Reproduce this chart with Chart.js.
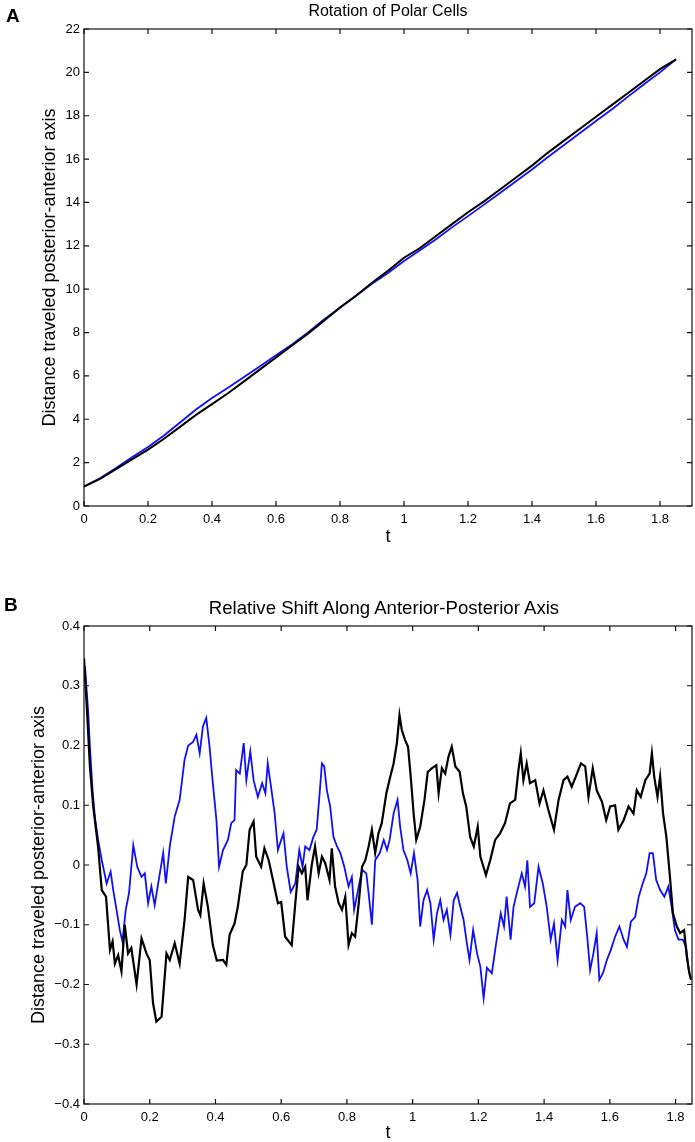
<!DOCTYPE html>
<html>
<head>
<meta charset="utf-8">
<script src="https://cdn.jsdelivr.net/npm/chart.js@4"></script>
<style>
  body { margin: 0; background: #fff; font-family: "Liberation Sans", Arial, sans-serif; }
  #page { position: relative; width: 695px; height: 1142px; overflow: hidden; }
  canvas { position: absolute; left: 0; }
  .tag { position: absolute; font-weight: bold; font-size: 19px; line-height: 1; }
  .ttl { position: absolute; line-height: 1; transform: translate(-50%, -50%); white-space: nowrap; }
</style>
</head>
<body>
<div id="page">
  <canvas id="chartA" width="695" height="560" style="top:0;width:695px;height:560px"></canvas>
  <canvas id="chartB" width="695" height="582" style="top:560px;width:695px;height:582px"></canvas>
  <div class="tag" style="left:6px;top:6px">A</div>
  <div class="ttl" style="left:388px;top:11px;font-size:16px">Rotation of Polar Cells</div>
  <div class="tag" style="left:4px;top:595px">B</div>
  <div class="ttl" style="left:384px;top:608px;font-size:18.6px">Relative Shift Along Anterior-Posterior Axis</div>
</div>
<script>
// ---- panel A: rotation of polar cells ----
const tTop = [0, 0.05, 0.1, 0.15, 0.2, 0.25, 0.3, 0.35, 0.4, 0.45, 0.5, 0.55, 0.6, 0.65, 0.7, 0.75, 0.8, 0.85, 0.9, 0.95,
  1.0, 1.05, 1.1, 1.15, 1.2, 1.25, 1.3, 1.35, 1.4, 1.45, 1.5, 1.55, 1.6, 1.65, 1.7, 1.75, 1.8, 1.85];
const topBlack = [0.9, 1.25, 1.7, 2.15, 2.6, 3.1, 3.65, 4.2, 4.7, 5.2, 5.75, 6.3, 6.85, 7.4, 7.95, 8.55, 9.15, 9.7, 10.3, 10.85,
  11.45, 11.9, 12.45, 13.0, 13.55, 14.05, 14.6, 15.15, 15.7, 16.3, 16.85, 17.4, 17.95, 18.5, 19.05, 19.6, 20.15, 20.6];
const topBlue = [0.9, 1.28, 1.75, 2.25, 2.72, 3.25, 3.85, 4.45, 4.98, 5.45, 5.95, 6.45, 6.95, 7.45, 8.0, 8.6, 9.15, 9.7, 10.25, 10.75,
  11.3, 11.8, 12.3, 12.85, 13.37, 13.9, 14.44, 14.98, 15.52, 16.1, 16.65, 17.2, 17.76, 18.3, 18.88, 19.45, 20.0, 20.6];
const xTicksTop = [0, 0.2, 0.4, 0.6, 0.8, 1, 1.2, 1.4, 1.6, 1.8];
const yTicksTop = [0, 2, 4, 6, 8, 10, 12, 14, 16, 18, 20, 22];

// ---- panel B: relative shift ----
const tBlack = [0, 0.008, 0.018, 0.028, 0.043, 0.054, 0.067, 0.079, 0.087, 0.094, 0.104, 0.114, 0.124, 0.134, 0.144, 0.16,
  0.175, 0.19, 0.2, 0.21, 0.22, 0.236, 0.251, 0.261, 0.276, 0.291, 0.306, 0.317, 0.332, 0.347, 0.354, 0.364, 0.377, 0.392,
  0.404, 0.423, 0.433, 0.443, 0.458, 0.468, 0.483, 0.494, 0.504, 0.516, 0.524, 0.539, 0.549, 0.562, 0.575, 0.59, 0.6, 0.612,
  0.632, 0.643, 0.653, 0.663, 0.673, 0.68, 0.693, 0.703, 0.714, 0.724, 0.734, 0.747, 0.754, 0.764, 0.775, 0.785, 0.795, 0.805,
  0.815, 0.825, 0.836, 0.846, 0.856, 0.866, 0.876, 0.886, 0.896, 0.906, 0.92, 0.932, 0.942, 0.952, 0.96, 0.967, 0.977, 0.986,
  0.995, 1.003, 1.011, 1.023, 1.036, 1.046, 1.059, 1.072, 1.079, 1.089, 1.099, 1.109, 1.119, 1.13, 1.143, 1.153, 1.163, 1.175,
  1.186, 1.198, 1.206, 1.223, 1.236, 1.251, 1.266, 1.281, 1.296, 1.312, 1.322, 1.329, 1.337, 1.347, 1.357, 1.373, 1.386, 1.398,
  1.413, 1.43, 1.444, 1.459, 1.471, 1.484, 1.5, 1.512, 1.525, 1.535, 1.548, 1.56, 1.576, 1.589, 1.601, 1.616, 1.626, 1.642,
  1.657, 1.672, 1.682, 1.694, 1.708, 1.721, 1.728, 1.735, 1.745, 1.753, 1.762, 1.772, 1.782, 1.792, 1.804, 1.814, 1.826, 1.834,
  1.842, 1.847];
const shiftBlack = [0.346, 0.27, 0.165, 0.098, 0.03, -0.042, -0.053, -0.142, -0.128, -0.165, -0.151, -0.178, -0.1, -0.148, -0.139, -0.2,
  -0.123, -0.148, -0.159, -0.231, -0.262, -0.254, -0.148, -0.159, -0.131, -0.165, -0.092, -0.02, -0.025, -0.075, -0.084, -0.031, -0.07, -0.134,
  -0.16, -0.159, -0.167, -0.117, -0.098, -0.07, -0.011, 0, 0.059, 0.073, 0.014, -0.003, 0.028, 0.008, -0.025, -0.064, -0.062, -0.12,
  -0.134, -0.064, -0.003, -0.014, -0.003, -0.059, 0, 0.031, -0.014, 0.014, 0.003, -0.025, 0.028, -0.036, -0.064, -0.075, -0.053, -0.134,
  -0.114, -0.12, -0.064, -0.003, 0.008, 0.031, 0.059, 0.02, 0.053, 0.07, 0.12, 0.148, 0.17, 0.204, 0.251, 0.226, 0.209, 0.198,
  0.142, 0.086, 0.042, 0.064, 0.109, 0.156, 0.162, 0.167, 0.12, 0.162, 0.153, 0.181, 0.198, 0.165, 0.156, 0.12, 0.098, 0.047,
  0.031, 0.064, 0.014, -0.017, 0.008, 0.042, 0.053, 0.07, 0.103, 0.109, 0.159, 0.187, 0.142, 0.17, 0.137, 0.142, 0.103, 0.125,
  0.092, 0.059, 0.109, 0.142, 0.148, 0.131, 0.153, 0.17, 0.165, 0.114, 0.162, 0.125, 0.106, 0.075, 0.098, 0.1, 0.059, 0.075,
  0.098, 0.086, 0.125, 0.114, 0.142, 0.153, 0.187, 0.148, 0.114, 0.148, 0.086, 0.047, -0.014, -0.081, -0.103, -0.114, -0.109, -0.153,
  -0.181, -0.192];
const tBlue = [0, 0.003, 0.013, 0.018, 0.026, 0.033, 0.043, 0.054, 0.069, 0.081, 0.089, 0.099, 0.109, 0.117, 0.127, 0.137, 0.15,
  0.162, 0.175, 0.185, 0.195, 0.205, 0.215, 0.229, 0.241, 0.249, 0.261, 0.276, 0.291, 0.306, 0.317, 0.332, 0.342, 0.352, 0.362,
  0.372, 0.382, 0.392, 0.403, 0.411, 0.423, 0.438, 0.448, 0.458, 0.463, 0.474, 0.486, 0.494, 0.506, 0.516, 0.529, 0.542, 0.552,
  0.559, 0.569, 0.58, 0.59, 0.6, 0.607, 0.617, 0.629, 0.643, 0.655, 0.665, 0.673, 0.686, 0.698, 0.708, 0.717, 0.724, 0.731,
  0.739, 0.749, 0.759, 0.77, 0.78, 0.792, 0.805, 0.815, 0.822, 0.832, 0.846, 0.859, 0.866, 0.876, 0.886, 0.9, 0.912, 0.922,
  0.93, 0.942, 0.954, 0.962, 0.972, 0.984, 0.994, 1.004, 1.015, 1.023, 1.033, 1.044, 1.054, 1.064, 1.074, 1.084, 1.094, 1.104,
  1.115, 1.125, 1.135, 1.145, 1.155, 1.165, 1.173, 1.184, 1.196, 1.206, 1.216, 1.226, 1.241, 1.254, 1.268, 1.278, 1.286, 1.298,
  1.307, 1.319, 1.332, 1.342, 1.349, 1.357, 1.37, 1.383, 1.396, 1.408, 1.42, 1.43, 1.441, 1.454, 1.464, 1.471, 1.481, 1.494,
  1.51, 1.522, 1.532, 1.54, 1.55, 1.56, 1.568, 1.579, 1.591, 1.603, 1.616, 1.629, 1.642, 1.652, 1.664, 1.677, 1.688, 1.7,
  1.711, 1.721, 1.731, 1.741, 1.753, 1.766, 1.778, 1.788, 1.798, 1.809, 1.822, 1.832, 1.84, 1.847];
const shiftBlue = [0.31, 0.332, 0.254, 0.198, 0.125, 0.081, 0.042, 0.008, -0.031, -0.011, -0.042, -0.075, -0.109, -0.128, -0.075, -0.047, 0.033,
  -0.003, -0.02, -0.014, -0.064, -0.036, -0.067, -0.02, 0.02, -0.031, 0.031, 0.081, 0.109, 0.176, 0.2, 0.206, 0.218, 0.187, 0.232,
  0.246, 0.198, 0.137, 0.075, -0.003, 0.025, 0.042, 0.07, 0.075, 0.159, 0.153, 0.204, 0.142, 0.19, 0.142, 0.114, 0.137, 0.12,
  0.17, 0.131, 0.087, 0.025, 0.042, 0.053, -0.003, -0.045, -0.031, 0.025, -0.003, 0.031, 0.025, 0.047, 0.059, 0.12, 0.17, 0.165,
  0.125, 0.098, 0.047, 0.031, 0.02, -0.003, -0.036, -0.02, -0.075, -0.047, -0.008, -0.014, -0.047, -0.1, 0.008, 0.02, 0.042, 0.025,
  0.042, 0.086, 0.109, 0.064, 0.025, 0.008, -0.014, 0.02, -0.025, -0.103, -0.059, -0.042, -0.064, -0.125, -0.081, -0.059, -0.092, -0.075,
  -0.117, -0.059, -0.047, -0.07, -0.092, -0.131, -0.159, -0.109, -0.148, -0.17, -0.223, -0.172, -0.181, -0.131, -0.081, -0.103, -0.053, -0.125,
  -0.07, -0.042, -0.014, -0.036, 0.008, -0.07, -0.064, -0.003, -0.031, -0.07, -0.125, -0.098, -0.159, -0.092, -0.103, -0.042, -0.092, -0.07,
  -0.064, -0.07, -0.125, -0.176, -0.148, -0.114, -0.192, -0.181, -0.159, -0.142, -0.12, -0.103, -0.125, -0.137, -0.095, -0.087, -0.053, -0.031,
  -0.014, 0.02, 0.02, -0.025, -0.042, -0.053, -0.036, -0.07, -0.109, -0.125, -0.125, -0.137, -0.176, -0.192];
const xTicksBottom = [0, 0.2, 0.4, 0.6, 0.8, 1, 1.2, 1.4, 1.6, 1.8];
const yTicksBottom = [-0.4, -0.3, -0.2, -0.1, 0, 0.1, 0.2, 0.3, 0.4];

const FONT = '"Liberation Sans", Arial, sans-serif';
const fmt = v => {
  const n = +Number(v).toFixed(2);
  return (n < 0 ? '\u2212' : '') + String(Math.abs(n));
};

// matlab style box with inward ticks on all four sides
const boxPlugin = {
  id: 'box',
  afterDraw(chart) {
    const { ctx, chartArea: a, scales: { x, y } } = chart;
    ctx.save();
    ctx.strokeStyle = '#111';
    ctx.lineWidth = 1.2;
    ctx.strokeRect(a.left, a.top, a.right - a.left, a.bottom - a.top);
    ctx.beginPath();
    x.ticks.forEach(t => {
      const px = x.getPixelForValue(t.value);
      ctx.moveTo(px, a.bottom); ctx.lineTo(px, a.bottom - 5);
      ctx.moveTo(px, a.top); ctx.lineTo(px, a.top + 5);
    });
    y.ticks.forEach(t => {
      const py = y.getPixelForValue(t.value);
      ctx.moveTo(a.left, py); ctx.lineTo(a.left + 5, py);
      ctx.moveTo(a.right, py); ctx.lineTo(a.right - 5, py);
    });
    ctx.stroke();
    ctx.restore();
  }
};

function makeChart(id, datasets, o) {
  return new Chart(document.getElementById(id), {
    type: 'line',
    data: { datasets },
    options: {
      responsive: false,
      animation: false,
      layout: { padding: { left: 0, right: 3, top: o.padTop, bottom: 0 } },
      plugins: { legend: { display: false }, tooltip: { enabled: false } },
      elements: { point: { radius: 0 }, line: { tension: 0 } },
      scales: {
        x: {
          type: 'linear', min: 0, max: o.xMax,
          grid: { display: false, drawTicks: false }, border: { display: false },
          afterBuildTicks: s => { s.ticks = o.xTicks.map(v => ({ value: v })); },
          afterFit: s => { s.height = o.xHeight; },
          ticks: { color: '#000', font: { family: FONT, size: 13 }, padding: 6, maxRotation: 0, callback: fmt },
          title: { display: true, text: 't', color: '#000', font: { family: FONT, size: 18, lineHeight: 1 }, padding: { top: 0, bottom: o.xTitlePad } }
        },
        y: {
          type: 'linear', min: o.yMin, max: o.yMax,
          grid: { display: false, drawTicks: false }, border: { display: false },
          afterBuildTicks: s => { s.ticks = o.yTicks.map(v => ({ value: v })); },
          afterFit: s => { s.width = 84; },
          ticks: { color: '#000', font: { family: FONT, size: 13 }, padding: 4, callback: fmt },
          title: { display: true, text: 'Distance traveled posterior-anterior axis', color: '#000', font: { family: FONT, size: 18, lineHeight: 1 }, padding: { top: o.yTitlePad, bottom: 0 } }
        }
      }
    },
    plugins: [boxPlugin]
  });
}

const pts = (xs, ys) => xs.map((x, i) => ({ x, y: ys[i] }));

makeChart('chartA', [
  { data: pts(tTop, topBlack), borderColor: '#000', borderWidth: 2 },
  { data: pts(tTop, topBlue), borderColor: '#1010f2', borderWidth: 1.8 }
], { padTop: 29, xMax: 1.9, xTicks: xTicksTop, yMin: 0, yMax: 22, yTicks: yTicksTop, xHeight: 54, xTitlePad: 14, yTitlePad: 41 });

makeChart('chartB', [
  { data: pts(tBlack, shiftBlack), borderColor: '#000', borderWidth: 2.2 },
  { data: pts(tBlue, shiftBlue), borderColor: '#1010f2', borderWidth: 1.8 }
], { padTop: 66, xMax: 1.85, xTicks: xTicksBottom, yMin: -0.4, yMax: 0.4, yTicks: yTicksBottom, xHeight: 38, xTitlePad: 0, yTitlePad: 30 });
</script>
</body>
</html>
